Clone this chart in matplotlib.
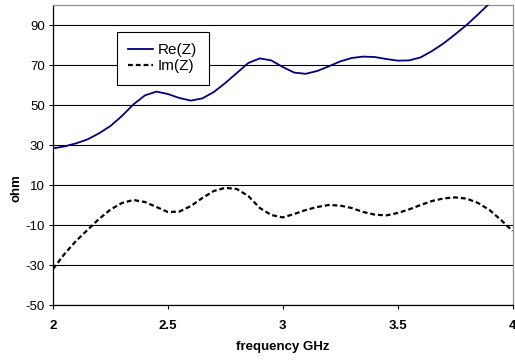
import numpy as np
import matplotlib
matplotlib.use('Agg')
import matplotlib.pyplot as plt

plt.rcParams['font.family'] = ['Liberation Sans', 'DejaVu Sans']
plt.rcParams['axes.unicode_minus'] = False

# frequency [GHz]
freq = [2.00, 2.05, 2.10, 2.15, 2.20, 2.25, 2.30, 2.35, 2.40, 2.45,
        2.50, 2.55, 2.60, 2.65, 2.70, 2.75, 2.80, 2.85, 2.90, 2.95,
        3.00, 3.05, 3.10, 3.15, 3.20, 3.25, 3.30, 3.35, 3.40, 3.45,
        3.50, 3.55, 3.60, 3.65, 3.70, 3.75, 3.80, 3.85, 3.90, 3.95, 4.00]
# Re(Z) [ohm]
reZ = [28.3, 29.3, 30.8, 32.8, 35.8, 39.5, 44.5, 50.3, 54.8, 56.7,
       55.5, 53.5, 52.2, 53.3, 56.5, 61.0, 66.0, 71.0, 73.3, 72.3,
       69.0, 66.2, 65.6, 67.0, 69.3, 71.8, 73.5, 74.2, 74.0, 73.0,
       72.2, 72.3, 73.8, 77.0, 80.8, 85.3, 90.0, 95.3, 100.8, 106.0, 111.0]
# Im(Z) [ohm]
imZ = [-32.0, -24.5, -18.0, -12.5, -7.0, -2.3, 1.0, 2.5, 1.5, -1.0,
       -3.5, -3.3, -0.5, 3.5, 7.0, 8.6, 8.0, 4.5, -1.5, -5.0,
       -6.2, -4.5, -2.5, -1.0, 0.0, -0.3, -1.5, -3.5, -4.8, -5.2,
       -4.0, -2.2, 0.0, 2.0, 3.3, 3.8, 3.2, 1.0, -2.5, -7.5, -13.0]

xticks = [2, 2.5, 3, 3.5, 4]
xticklabels = ['2', '2.5', '3', '3.5', '4']
yticks = [-50, -30, -10, 10, 30, 50, 70, 90]

fig = plt.figure(figsize=(5.15, 3.62), dpi=100)
ax = fig.add_axes([53/515, 1-305/362, 459.5/515, 300/362])

ax.plot(freq, reZ, color='#000080', lw=1.3, label='Re(Z)', zorder=3)
ax.plot(freq, imZ, color='black', lw=1.6, dashes=(2.2, 1.3), label='Im(Z)', zorder=3)

ax.set_xlim(2, 4)
ax.set_ylim(-50, 100)
ax.set_xticks(xticks)
ax.set_xticklabels(xticklabels, fontweight='bold', fontsize=9.5)
ax.set_yticks(yticks)
ax.set_yticklabels([str(v) for v in yticks], fontsize=9.5)
ax.tick_params(axis='x', direction='out', length=3, width=0.8, pad=8)
ax.tick_params(axis='y', direction='out', length=3, width=0.8, pad=3)

for y in yticks:
    ax.axhline(y, color='black', lw=0.8, zorder=1)

ax.spines['left'].set_color('black')
ax.spines['bottom'].set_color('black')
ax.spines['top'].set_color('#909090')
ax.spines['right'].set_color('#909090')
for s in ax.spines.values():
    s.set_linewidth(0.9)

ax.set_xlabel('frequency GHz', fontweight='bold', fontsize=9.5)
ax.xaxis.set_label_coords(0.5, -0.12)
ax.set_ylabel('ohm', fontweight='bold', fontsize=9.5)
ax.yaxis.set_label_coords(-0.066, 0.39)

leg = ax.legend(loc='upper left', bbox_to_anchor=(116.7/515, 1-31.7/362),
                bbox_transform=fig.transFigure, fontsize=11, frameon=True,
                fancybox=False, edgecolor='black', framealpha=1,
                borderpad=0.75, handlelength=1.6, handletextpad=0.35,
                labelspacing=0.15, borderaxespad=0)
leg.get_frame().set_linewidth(0.8)

fig.savefig('out.png', dpi=100)
